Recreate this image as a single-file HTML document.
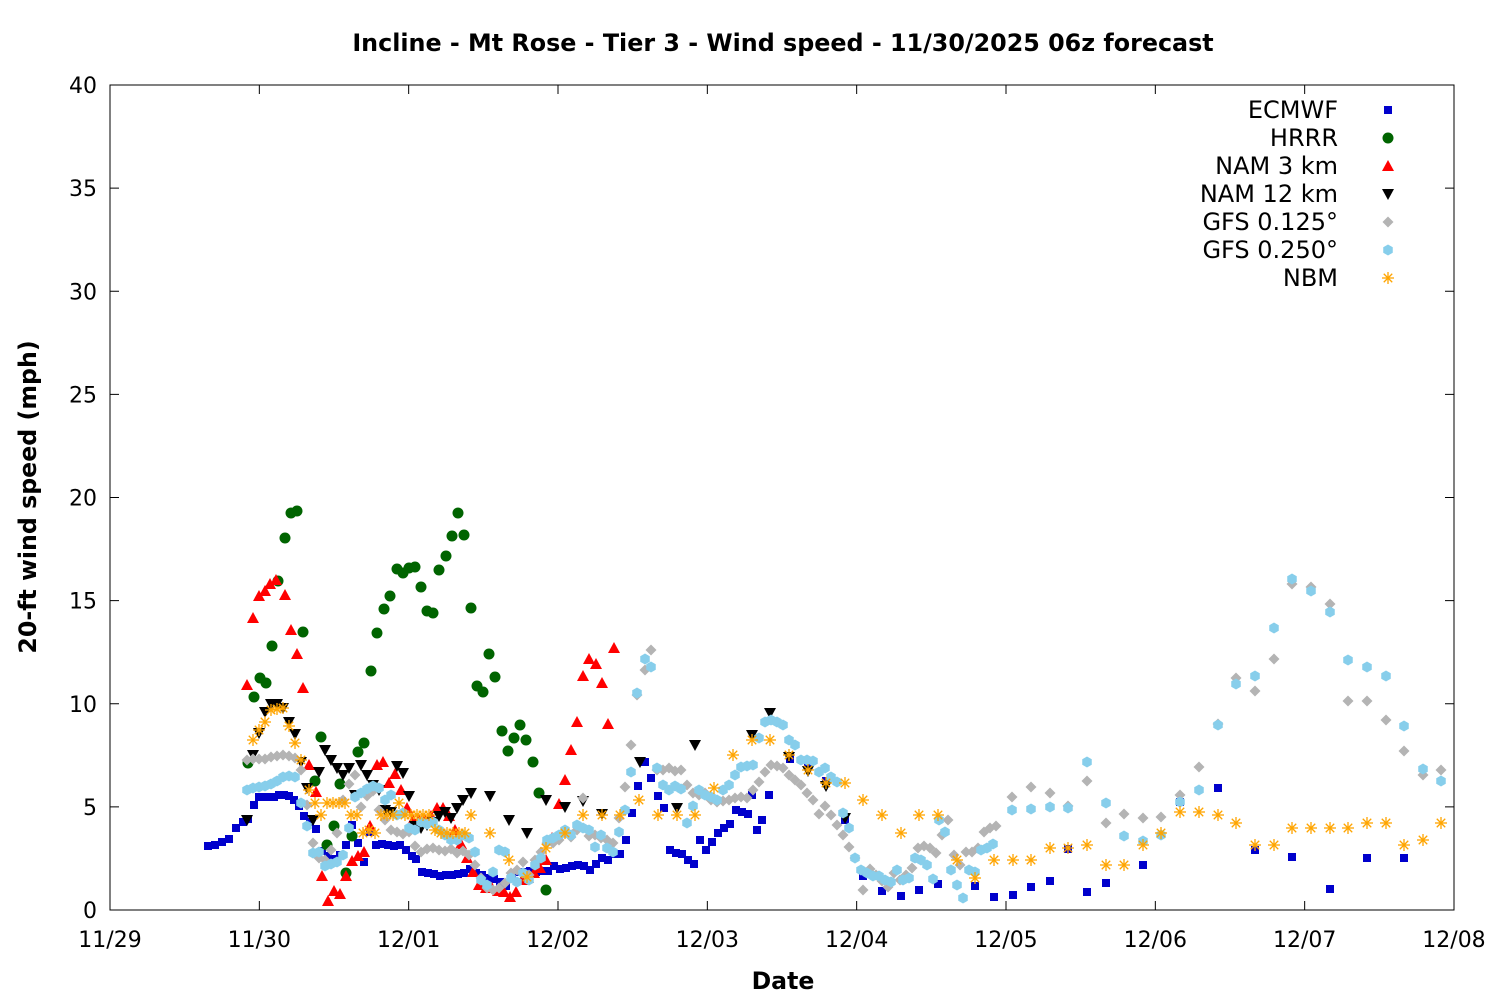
<!DOCTYPE html>
<html><head><meta charset="utf-8"><style>
html,body{margin:0;padding:0;background:#fff}
svg text{font-family:"DejaVu Sans",sans-serif;}
</style></head><body>
<svg id="s" width="1500" height="1000" xmlns="http://www.w3.org/2000/svg">
<rect width="1500" height="1000" fill="#fff"/>
<text x="783" y="51" font-size="23.8" font-weight="bold" text-anchor="middle">Incline - Mt Rose - Tier 3 - Wind speed - 11/30/2025 06z forecast</text>
<text x="783" y="989" font-size="23.6" font-weight="bold" text-anchor="middle">Date</text>
<text transform="translate(36,497) rotate(-90)" font-size="23.7" font-weight="bold" text-anchor="middle">20-ft wind speed (mph)</text>
<g id="ax"></g>
<g id="pts"></g>
<rect x="110" y="85" width="1344" height="825" fill="none" stroke="#000" stroke-width="1"/>
</svg>
<script>
var ns="http://www.w3.org/2000/svg";
function el(t,a,p,txt){var e=document.createElementNS(ns,t);for(var k in a)e.setAttribute(k,a[k]);if(txt!==undefined)e.textContent=txt;p.appendChild(e);return e;}
var ax=document.getElementById('ax'),P=document.getElementById('pts');
for(var i=0;i<=8;i++){var y=910-i*103.125;
el('line',{x1:110,y1:y,x2:119,y2:y,stroke:'#000'},ax);el('line',{x1:1445,y1:y,x2:1454,y2:y,stroke:'#000'},ax);
el('text',{x:97,y:y+8,'font-size':22,'text-anchor':'end'},ax,String(i*5));}
var xl=['11/29','11/30','12/01','12/02','12/03','12/04','12/05','12/06','12/07','12/08'];
for(var i=0;i<=9;i++){var x=110+i*149.333;
el('line',{x1:x,y1:910,x2:x,y2:901,stroke:'#000'},ax);el('line',{x1:x,y1:85,x2:x,y2:94,stroke:'#000'},ax);
el('text',{x:x,y:947,'font-size':22,'text-anchor':'middle'},ax,xl[i]);}
function mk(type,c,x,y){
 if(type==0)el('rect',{x:x-4,y:y-4,width:8,height:8,fill:c},P);
 else if(type==1)el('circle',{cx:x,cy:y,r:5.5,fill:c},P);
 else if(type==2)el('polygon',{points:(x)+','+(y-6)+' '+(x+6)+','+(y+5)+' '+(x-6)+','+(y+5),fill:c},P);
 else if(type==3)el('polygon',{points:(x)+','+(y+6)+' '+(x+6)+','+(y-5)+' '+(x-6)+','+(y-5),fill:c},P);
 else if(type==4)el('polygon',{points:(x)+','+(y-5.5)+' '+(x+5.5)+','+(y)+' '+(x)+','+(y+5.5)+' '+(x-5.5)+','+y,fill:c},P);
 else if(type==5){var s='';for(var k=0;k<6;k++){var a=Math.PI/3*k+Math.PI/6;s+=(x+5.5*Math.cos(a))+','+(y+5.5*Math.sin(a))+' ';}el('polygon',{points:s,fill:c},P);}
 else {for(var k=0;k<4;k++){var a=Math.PI/4*k;el('line',{x1:x-6*Math.cos(a),y1:y-6*Math.sin(a),x2:x+6*Math.cos(a),y2:y+6*Math.sin(a),stroke:c,'stroke-width':1.3},P);}}
}
var S=[
[0,'#0000cc',[208,846,215,845,222,842,229,839,236,828,243,822,248,819,254,805,259,797,264,797,269,797,274,797,279,795,284,795,289,796,294,800,299,806,304,816,310,822,316,829,322,851,328,856,334,859,340,855,346,845,352,825,358,843,364,862,370,832,376,845,382,844,388,845,394,846,400,845,406,850,412,856,416,859,422,872,428,873,434,874,440,876,446,875,452,875,458,874,464,873,470,869,476,873,482,875,488,878,494,879,500,882,506,886,512,875,518,872,524,872,530,871,536,872,542,871,548,871,554,866,560,869,566,868,572,866,578,865,584,866,590,870,596,864,602,858,608,860,614,854,620,854,626,840,632,813,638,786,645,762,651,778,658,796,664,808,670,850,676,853,682,854,688,860,694,864,700,840,706,850,712,842,718,833,724,828,730,824,736,810,742,812,748,814,752,795,757,830,762,820,769,795,790,759,808,764,826,781,845,820,863,876,882,891,901,896,919,890,938,884,975,886,994,897,1013,895,1031,887,1050,881,1068,849,1087,892,1106,883,1143,865,1180,802,1218,788,1255,850,1292,857,1330,889,1367,858,1404,858]],
[1,'#006400',[248,763,254,697,260,678,266,683,272,646,278,581,285,538,291,513,297,511,303,632,315,781,321,737,327,845,334,826,340,784,346,873,352,836,358,752,364,743,371,671,377,633,384,609,390,596,397,569,403,573,409,568,415,567,421,587,427,611,433,613,439,570,446,556,452,536,458,513,464,535,471,608,477,686,483,692,489,654,495,677,502,731,508,751,514,738,520,725,526,740,533,762,539,793,546,890]],
[2,'#ff0000',[247,685,253,618,259,596,265,591,270,584,276,580,285,595,291,630,297,654,303,688,309,765,316,792,322,876,328,901,334,891,340,894,346,876,352,861,358,856,364,852,370,826,377,765,383,762,389,783,395,774,401,790,407,808,413,820,419,820,425,820,431,816,437,808,443,808,449,816,455,830,461,844,467,858,473,872,479,885,486,888,492,888,498,891,504,892,510,897,516,892,522,880,528,878,534,873,540,868,546,860,552,838,559,804,565,780,571,750,577,722,583,676,589,659,596,664,602,683,608,724,614,648]],
[3,'#000',[247,820,253,755,259,733,265,712,271,704,277,704,283,708,289,722,295,734,301,762,307,788,313,820,319,772,325,750,331,760,337,768,343,775,349,768,355,795,361,765,367,775,373,785,379,790,385,810,391,812,397,766,403,773,409,796,415,826,421,828,427,825,433,822,439,816,445,812,451,818,457,808,463,800,471,793,490,796,509,820,527,833,546,800,565,807,583,801,602,814,640,762,677,808,695,745,752,735,770,713,789,757,808,771,826,786,845,818]],
[4,'#b4b4b4',[247,760,253,759,259,759,265,759,271,757,277,756,283,755,289,756,295,758,301,770,307,805,313,843,319,858,325,860,331,850,337,833,343,800,349,784,355,775,361,807,367,796,373,791,379,810,385,820,391,830,397,832,403,834,409,832,415,846,421,852,427,849,433,848,439,850,445,851,451,849,457,853,463,851,469,855,475,865,481,878,487,888,493,890,499,888,505,883,511,873,517,870,523,862,529,875,535,860,541,852,547,843,553,843,559,840,565,833,571,837,577,830,583,798,589,836,595,835,601,838,607,840,613,843,619,818,625,787,631,745,637,695,645,670,651,650,657,770,663,770,669,768,675,771,681,770,687,785,693,793,699,795,705,793,711,800,717,802,723,801,729,800,735,798,741,797,747,798,753,790,759,782,765,772,771,765,777,766,783,768,789,775,795,780,801,785,807,793,813,800,819,814,825,806,831,815,837,825,843,835,849,847,855,858,863,890,870,869,876,875,882,881,888,887,894,873,900,880,906,875,912,868,918,848,924,846,930,848,936,853,942,835,948,820,954,855,960,865,966,852,972,852,978,848,984,832,990,828,996,826,1012,797,1031,787,1050,793,1068,806,1087,781,1106,823,1124,814,1143,818,1161,817,1180,795,1199,767,1218,724,1236,678,1255,691,1274,659,1292,584,1311,587,1330,604,1348,701,1367,701,1386,720,1404,751,1423,775,1441,770]],
[5,'#87ceeb',[247,790,253,788,259,787,265,786,271,784,277,781,283,777,289,776,295,777,301,803,307,826,313,853,319,852,325,866,331,864,337,862,343,855,349,828,355,797,361,793,367,789,373,786,379,788,385,800,391,795,397,815,403,813,409,828,415,830,421,822,427,824,433,822,439,830,445,835,451,840,457,840,463,835,469,838,475,852,481,880,487,885,493,872,499,850,505,852,511,878,517,882,523,873,529,880,535,865,541,858,547,840,553,838,559,835,565,830,571,835,577,825,583,828,589,830,595,847,601,835,607,848,613,852,619,832,625,810,631,772,637,693,645,659,651,667,657,768,663,785,669,790,675,786,681,789,687,823,693,806,699,790,705,795,711,797,717,800,723,790,729,785,735,775,741,767,747,766,753,765,759,738,765,722,771,720,777,722,783,725,789,740,795,745,801,760,807,760,813,761,819,772,825,768,831,777,837,782,843,813,849,828,855,858,861,870,867,873,873,876,879,876,885,880,891,882,897,870,903,880,909,878,915,858,921,860,927,865,933,879,939,820,945,832,951,870,957,885,963,898,969,870,975,872,981,850,987,848,993,844,1012,810,1031,809,1050,807,1068,808,1087,762,1106,803,1124,836,1143,841,1161,835,1180,802,1199,790,1218,725,1236,684,1255,676,1274,628,1292,579,1311,591,1330,612,1348,660,1367,667,1386,676,1404,726,1423,769,1441,781]],
[6,'#ffa500',[253,740,259,730,265,722,271,710,277,709,283,708,289,726,295,743,301,760,309,790,315,803,321,815,327,803,333,803,339,803,345,803,351,815,357,815,363,833,369,830,375,833,381,815,387,815,393,815,399,803,405,815,411,815,417,815,423,815,429,815,435,830,441,833,447,833,453,833,459,833,465,833,471,815,490,833,509,860,527,877,546,848,565,833,583,815,602,815,620,815,639,800,658,815,677,815,695,815,714,788,733,755,752,740,770,740,789,755,808,770,826,783,845,783,863,800,882,815,901,833,919,815,938,815,957,860,975,878,994,860,1013,860,1031,860,1050,848,1068,848,1087,845,1106,865,1124,865,1143,845,1161,833,1180,812,1199,812,1218,815,1236,823,1255,845,1274,845,1292,828,1311,828,1330,828,1348,828,1367,823,1386,823,1404,845,1423,840,1441,823]]];
var names=['ECMWF','HRRR','NAM 3 km','NAM 12 km','GFS 0.125°','GFS 0.250°','NBM'];
S.forEach(function(s,i){var d=s[2];for(var j=0;j<d.length;j+=2)mk(s[0],s[1],d[j],d[j+1]);
 var ly=110+i*28;el('text',{x:1338,y:ly+8,'font-size':24,'text-anchor':'end'},P,names[i]);mk(s[0],s[1],1388,ly);});
</script>
</body></html>
